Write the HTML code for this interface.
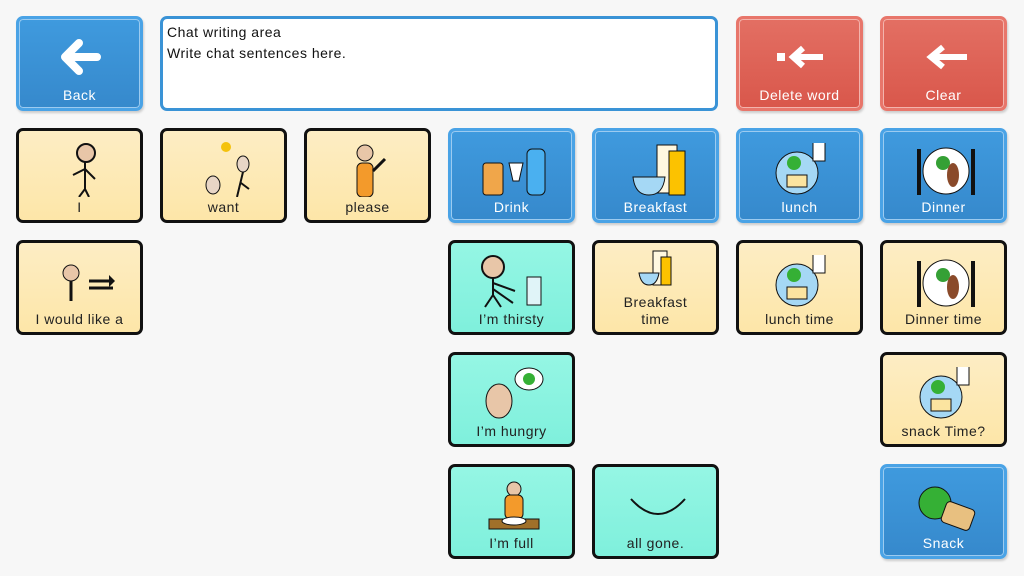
<!DOCTYPE html>
<html><head><style>
body{margin:0;width:1024px;height:576px;background:#f7f7f7;font-family:"Liberation Sans",sans-serif;position:relative;overflow:hidden}
.c{position:absolute;width:127px;height:95px;box-sizing:border-box;border-radius:7px;text-align:center;font-size:14px;letter-spacing:.5px}
.b{background:linear-gradient(#3f9ade,#3689cc);border:3px solid #4aa3e6;color:#fff;box-shadow:inset 0 0 0 1px #9ccbf0,1px 2px 2px #ccc}
.r{background:linear-gradient(#e36f63,#d9574b);border:3px solid #e8766b;color:#fff;box-shadow:inset 0 0 0 1px #f3b4ad,1px 2px 2px #ccc}
.y{background:linear-gradient(#fdedc4,#fde6a8);border:3px solid #111;color:#222}
.t{background:linear-gradient(#95f6e4,#7ff0dc);border:3px solid #111;color:#222}
.l{position:absolute;left:0;right:0;bottom:4px;line-height:17px}
.i{position:absolute;left:0;right:0;top:8px;height:58px}
#chat{position:absolute;left:160px;top:16px;width:558px;height:95px;box-sizing:border-box;border:3px solid #3a93d6;border-radius:7px;background:#fff;font-family:"Liberation Sans",sans-serif;font-size:14px;letter-spacing:.5px;padding:3px 4px;line-height:21px;color:#111}
</style></head><body>
<div class="c b" style="left:16px;top:16px"><svg class="i" viewBox="0 0 127 58"><path d="M78 30H48M60 16L46 30L60 44" stroke="#fff" stroke-width="8" fill="none" stroke-linecap="round" stroke-linejoin="round"/></svg><div class="l">Back</div></div>
<div id="chat">Chat writing area<br>Write chat sentences here.</div>
<div class="c r" style="left:736px;top:16px"><svg class="i" viewBox="0 0 127 58"><rect x="38" y="26" width="8" height="8" fill="#fff"/><path d="M84 30H56M64 21L54 30L64 39" stroke="#fff" stroke-width="6" fill="none"/></svg><div class="l">Delete word</div></div>
<div class="c r" style="left:880px;top:16px"><svg class="i" viewBox="0 0 127 58"><path d="M84 30H48M60 20L48 30L60 40" stroke="#fff" stroke-width="6" fill="none"/></svg><div class="l">Clear</div></div>

<div class="c y" style="left:16px;top:128px"><svg class="i" viewBox="0 0 127 58"><circle cx="67" cy="14" r="9" fill="#e8c6a8" stroke="#111" stroke-width="2"/><path d="M66 23V50M66 30L54 36M66 30L76 40M66 50L60 58M66 50L70 58" stroke="#111" stroke-width="2" fill="none"/></svg><div class="l">I</div></div>
<div class="c y" style="left:160px;top:128px"><svg class="i" viewBox="0 0 127 58"><circle cx="63" cy="8" r="5" fill="#f4c20d"/><ellipse cx="50" cy="46" rx="7" ry="9" fill="#e8d6c6" stroke="#111"/><ellipse cx="80" cy="25" rx="6" ry="8" fill="#e8d6c6" stroke="#111"/><path d="M80 33L74 58M78 44L86 50" stroke="#111" stroke-width="2"/></svg><div class="l">want</div></div>
<div class="c y" style="left:304px;top:128px"><svg class="i" viewBox="0 0 127 58"><circle cx="58" cy="14" r="8" fill="#e8c6a8" stroke="#111"/><rect x="50" y="24" width="16" height="34" rx="5" fill="#f39a2b" stroke="#111"/><path d="M66 32L78 20" stroke="#111" stroke-width="3"/></svg><div class="l">please</div></div>
<div class="c b" style="left:448px;top:128px"><svg class="i" viewBox="0 0 127 58"><rect x="32" y="24" width="20" height="32" rx="3" fill="#f0a64a" stroke="#111"/><path d="M58 24H72L68 42H62Z" fill="#fff" stroke="#111"/><rect x="76" y="10" width="18" height="46" rx="5" fill="#4ab0f0" stroke="#111"/></svg><div class="l">Drink</div></div>
<div class="c b" style="left:592px;top:128px"><svg class="i" viewBox="0 0 127 58"><rect x="62" y="6" width="20" height="48" fill="#fff8e0" stroke="#111"/><rect x="74" y="12" width="16" height="44" fill="#fcc200" stroke="#111"/><path d="M38 38H70Q68 56 54 56Q40 56 38 38Z" fill="#a5d8f5" stroke="#111"/></svg><div class="l">Breakfast</div></div>
<div class="c b" style="left:736px;top:128px"><svg class="i" viewBox="0 0 127 58"><circle cx="58" cy="34" r="21" fill="#a5d8f5" stroke="#111"/><circle cx="55" cy="24" r="7" fill="#35b035"/><rect x="48" y="36" width="20" height="12" fill="#fbe4a0" stroke="#111"/><path d="M74 4V22H86V4" fill="#fff" stroke="#111"/></svg><div class="l">lunch</div></div>
<div class="c b" style="left:880px;top:128px"><svg class="i" viewBox="0 0 127 58"><circle cx="63" cy="32" r="23" fill="#fff" stroke="#111"/><circle cx="60" cy="24" r="7" fill="#35a035"/><ellipse cx="70" cy="36" rx="6" ry="12" fill="#8a4a2a"/><path d="M36 10V56M90 10V56" stroke="#111" stroke-width="4"/></svg><div class="l">Dinner</div></div>

<div class="c y" style="left:16px;top:240px"><svg class="i" viewBox="0 0 127 58"><circle cx="52" cy="22" r="8" fill="#e8c6a8" stroke="#111"/><path d="M52 30V50M70 30H94M70 37H94" stroke="#111" stroke-width="3"/><path d="M90 24L96 30L90 36" fill="#111"/></svg><div class="l">I would like a</div></div>
<div class="c t" style="left:448px;top:240px"><svg class="i" viewBox="0 0 127 58"><circle cx="42" cy="16" r="11" fill="#e8c6a8" stroke="#111" stroke-width="2"/><path d="M42 27V44L34 56M42 44L50 56M42 32L64 40M42 38L62 52" stroke="#111" stroke-width="2" fill="none"/><rect x="76" y="26" width="14" height="28" fill="#e0f4f8" stroke="#111"/></svg><div class="l">I’m thirsty</div></div>
<div class="c y" style="left:592px;top:240px"><svg style="position:absolute;left:0;top:6px;width:121px;height:40px" viewBox="0 0 121 40"><rect x="58" y="2" width="14" height="34" fill="#fff8e0" stroke="#111"/><rect x="66" y="8" width="10" height="28" fill="#fcc200" stroke="#111"/><path d="M44 24H64Q62 36 54 36Q46 36 44 24Z" fill="#a5d8f5" stroke="#111"/></svg><div class="l">Breakfast<br>time</div></div>
<div class="c y" style="left:736px;top:240px"><svg class="i" viewBox="0 0 127 58"><circle cx="58" cy="34" r="21" fill="#a5d8f5" stroke="#111"/><circle cx="55" cy="24" r="7" fill="#35b035"/><rect x="48" y="36" width="20" height="12" fill="#fbe4a0" stroke="#111"/><path d="M74 4V22H86V4" fill="#fff" stroke="#111"/></svg><div class="l">lunch time</div></div>
<div class="c y" style="left:880px;top:240px"><svg class="i" viewBox="0 0 127 58"><circle cx="63" cy="32" r="23" fill="#fff" stroke="#111"/><circle cx="60" cy="24" r="7" fill="#35a035"/><ellipse cx="70" cy="36" rx="6" ry="12" fill="#8a4a2a"/><path d="M36 10V56M90 10V56" stroke="#111" stroke-width="4"/></svg><div class="l">Dinner time</div></div>

<div class="c t" style="left:448px;top:352px"><svg class="i" viewBox="0 0 127 58"><ellipse cx="48" cy="38" rx="13" ry="17" fill="#e8c6a8" stroke="#111"/><ellipse cx="78" cy="16" rx="14" ry="11" fill="#fff" stroke="#111"/><circle cx="78" cy="16" r="6" fill="#35b035"/></svg><div class="l">I’m hungry</div></div>
<div class="c y" style="left:880px;top:352px"><svg class="i" viewBox="0 0 127 58"><circle cx="58" cy="34" r="21" fill="#a5d8f5" stroke="#111"/><circle cx="55" cy="24" r="7" fill="#35b035"/><rect x="48" y="36" width="20" height="12" fill="#fbe4a0" stroke="#111"/><path d="M74 4V22H86V4" fill="#fff" stroke="#111"/></svg><div class="l">snack Time?</div></div>

<div class="c t" style="left:448px;top:464px"><svg class="i" viewBox="0 0 127 58"><circle cx="63" cy="14" r="7" fill="#e8c6a8" stroke="#111"/><rect x="54" y="20" width="18" height="24" rx="5" fill="#f39a2b" stroke="#111"/><rect x="38" y="44" width="50" height="10" fill="#a0702a" stroke="#111"/><ellipse cx="63" cy="46" rx="12" ry="4" fill="#fff" stroke="#111"/></svg><div class="l">I’m full</div></div>
<div class="c t" style="left:592px;top:464px"><svg class="i" viewBox="0 0 127 58"><path d="M36 24Q63 54 90 24" stroke="#111" stroke-width="2" fill="none"/></svg><div class="l">all gone.</div></div>
<div class="c b" style="left:880px;top:464px"><svg class="i" viewBox="0 0 127 58"><circle cx="52" cy="28" r="16" fill="#35b035" stroke="#111"/><rect x="60" y="30" width="30" height="22" rx="4" fill="#e8c080" stroke="#111" transform="rotate(20 75 41)"/></svg><div class="l">Snack</div></div>
</body></html>
